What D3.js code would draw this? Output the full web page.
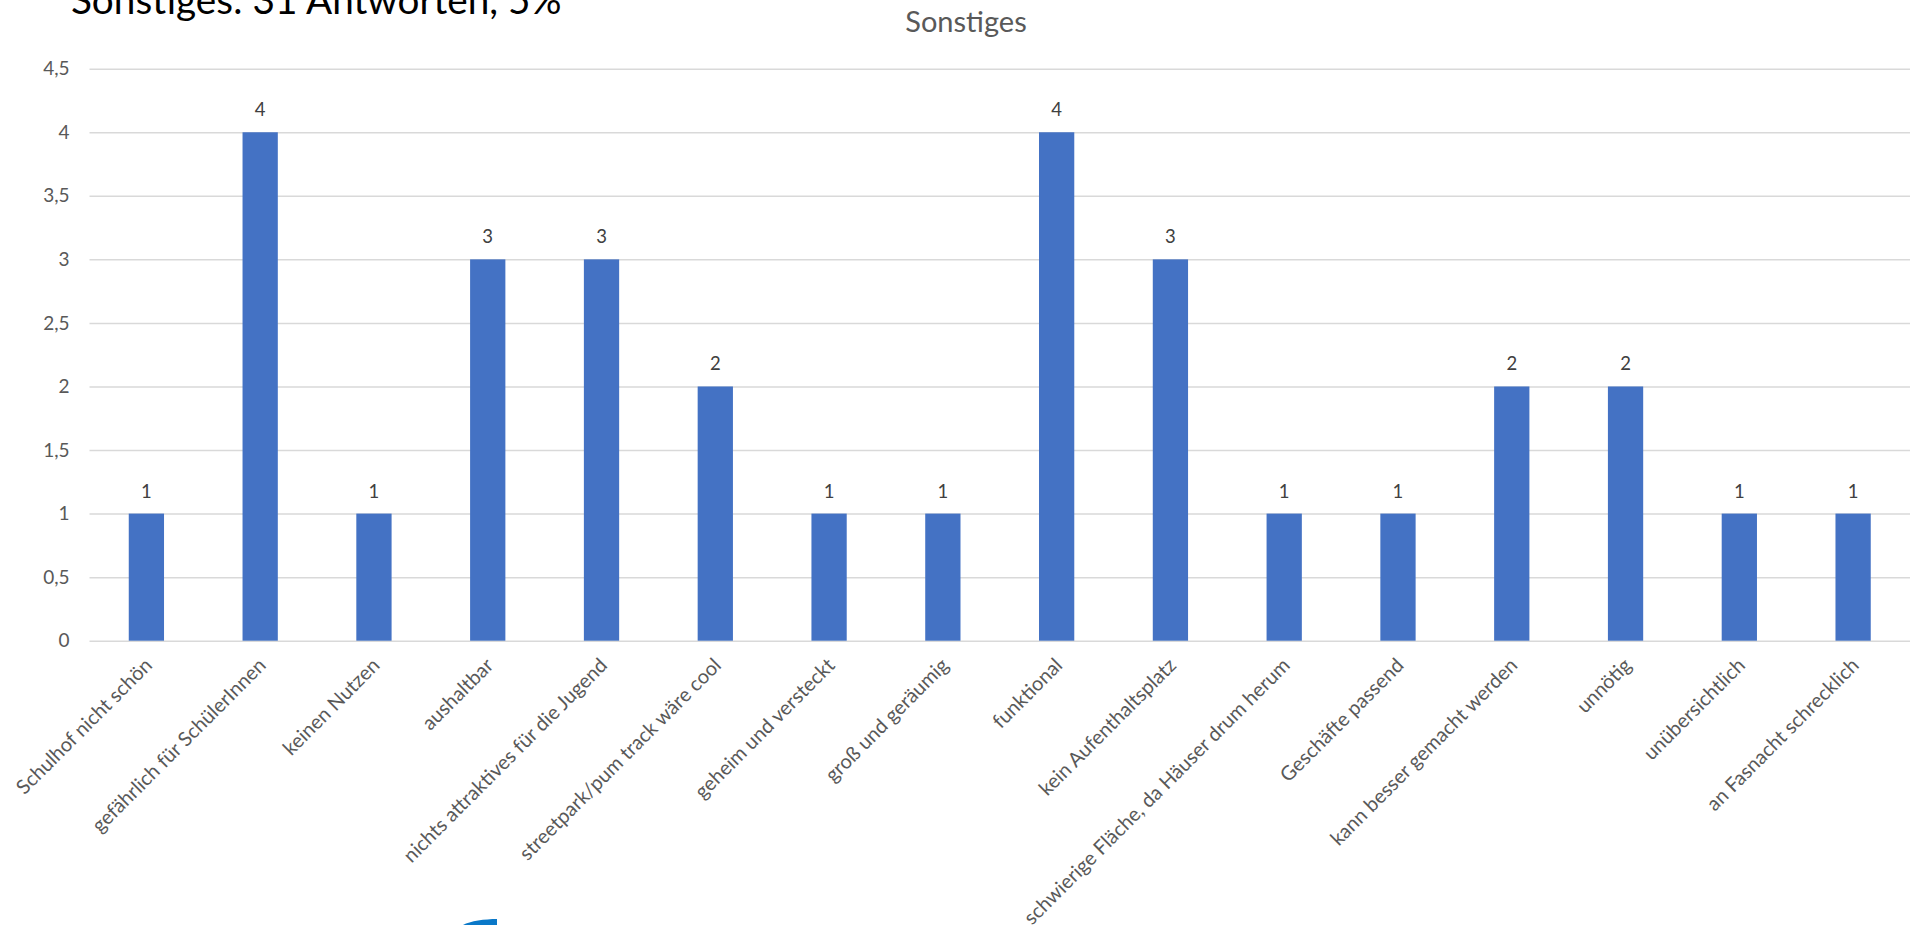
<!DOCTYPE html>
<html>
<head>
<meta charset="utf-8">
<script src="https://cdn.jsdelivr.net/npm/d3@7"></script>
<style>
  html, body { margin: 0; padding: 0; background: #fff; overflow: hidden; }
  svg { display: block; }
  text { font-family: Lato, "Open Sans", "DejaVu Sans", sans-serif; }
</style>
</head>
<body>
<svg id="chart" width="1910" height="925"></svg>
<script>
const categories = [
  "Schulhof nicht schön",
  "gefährlich für SchülerInnen",
  "keinen Nutzen",
  "aushaltbar",
  "nichts attraktives für die Jugend",
  "streetpark/pum track wäre cool",
  "geheim und versteckt",
  "groß und geräumig",
  "funktional",
  "kein Aufenthaltsplatz",
  "schwierige Fläche, da Häuser drum herum",
  "Geschäfte passend",
  "kann besser gemacht werden",
  "unnötig",
  "unübersichtlich",
  "an Fasnacht schrecklich"
];
const values = [1, 4, 1, 3, 3, 2, 1, 1, 4, 3, 1, 1, 2, 2, 1, 1];
const yTicks = [0, 0.5, 1, 1.5, 2, 2.5, 3, 3.5, 4, 4.5];
const chartTitle = "Sonstiges";
const slideTitle = "Sonstiges: 31 Antworten, 5%";

const svg = d3.select("#chart");
const plot = { left: 89.5, right: 1910, top: 68.7, bottom: 640.7 };

const x = d3.scaleBand()
  .domain(categories)
  .range([plot.left, plot.right])
  .paddingInner(0.69)
  .paddingOuter(0.345);

const y = d3.scaleLinear()
  .domain([0, 4.5])
  .range([plot.bottom, plot.top]);

const fmt = v => String(v).replace(".", ",");

// Slide title (clipped at top in the original)
svg.append("text")
  .attr("x", 71)
  .attr("y", 14)
  .attr("font-size", 38.7)
  .attr("fill", "#000")
  .text(slideTitle);

// Chart title
svg.append("text")
  .attr("x", 966)
  .attr("y", 32)
  .attr("text-anchor", "middle")
  .attr("font-size", 29)
  .attr("fill", "#595959")
  .text(chartTitle);

// Gridlines + y tick labels
const yAxis = d3.axisLeft(y)
  .tickValues(yTicks)
  .tickSize(-(plot.right - plot.left))
  .tickPadding(20)
  .tickFormat(fmt);

const gy = svg.append("g")
  .attr("transform", `translate(${plot.left},0)`)
  .call(yAxis);
gy.select(".domain").remove();
gy.selectAll(".tick line")
  .attr("stroke", "#d9d9d9")
  .attr("stroke-width", 1.5);
gy.selectAll(".tick text")
  .attr("font-size", 19)
  .attr("fill", "#595959")
  .style("font-family", "Lato, 'Open Sans', sans-serif");

// Bars
svg.append("g")
  .selectAll("rect")
  .data(values)
  .join("rect")
  .attr("x", (d, i) => x(categories[i]))
  .attr("y", d => y(d))
  .attr("width", x.bandwidth())
  .attr("height", d => y(0) - y(d))
  .attr("fill", "#4472C4");

// Data labels
svg.append("g")
  .selectAll("text")
  .data(values)
  .join("text")
  .attr("x", (d, i) => x(categories[i]) + x.bandwidth() / 2)
  .attr("y", d => y(d) - 16)
  .attr("text-anchor", "middle")
  .attr("font-size", 18.5)
  .attr("fill", "#404040")
  .text(d => fmt(d));

// Category labels
const xAxis = d3.axisBottom(x).tickSize(0).tickPadding(0);
const gx = svg.append("g")
  .attr("transform", `translate(0,${plot.bottom})`)
  .call(xAxis);
gx.select(".domain").remove();
gx.selectAll(".tick text")
  .attr("text-anchor", "end")
  .attr("font-size", 20)
  .attr("fill", "#595959")
  .attr("dy", 0)
  .attr("y", 0)
  .attr("transform", "translate(7,26) rotate(-45)")
  .style("font-family", "Lato, 'Open Sans', sans-serif");

// Logo fragment at the bottom edge
svg.append("path")
  .attr("d", "M463,925 C470,921 485,919 497,919 L497,925 Z")
  .attr("fill", "#0a78c8");
</script>
</body>
</html>
